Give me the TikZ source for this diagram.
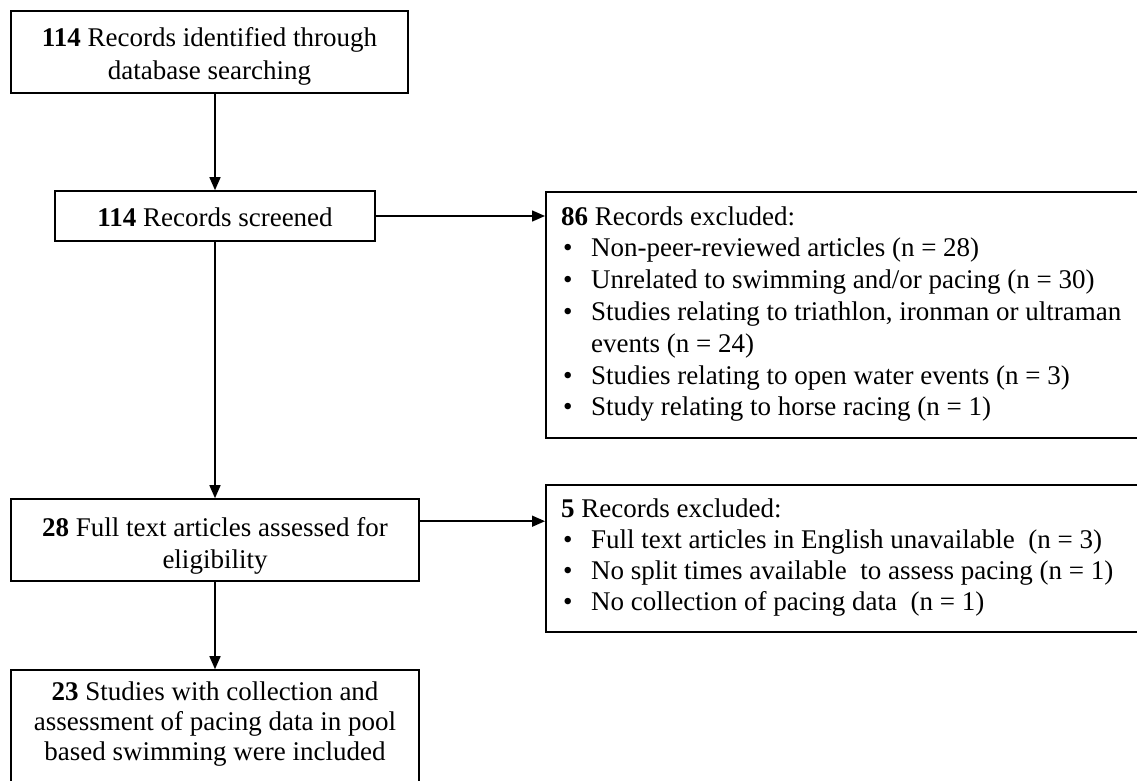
\documentclass[tikz,border=0pt]{standalone}
\usepackage{fontspec}
\setmainfont{Liberation Serif}
\usetikzlibrary{arrows.meta,calc}
\newcommand{\bul}{\makebox[30pt][l]{\hspace{2pt}\textbullet}}
\newcommand{\fs}[1]{\fontsize{27pt}{#1}\selectfont}
\begin{document}
\begin{tikzpicture}[x=1pt,y=-1pt,
  box/.style={draw,line width=1.6pt,inner sep=0pt},
  ctext/.style={anchor=base,inner sep=0pt},
  extext/.style={anchor=base west,inner sep=0pt},
  arr/.style={line width=1.5pt,-{Triangle[length=13pt,width=11pt]}}]
\useasboundingbox (0,0) rectangle (1137,781);
\clip (0,0) rectangle (1137,781);
\fill[white] (0,0) rectangle (1137,781);
% left column boxes
\node[box,minimum width=397pt,minimum height=82pt] (b1) at (209.5,52) {};
\node[ctext] (b1t) at (b1 |- 0,46.5) {\fs{33.5pt}\parbox[t]{397pt}{\centering
  \textbf{114} Records identified through\\database searching}};
\node[box,minimum width=320pt,minimum height=50pt] (b2) at (215,216) {};
\node[ctext] (b2t) at (b2 |- 0,226) {\fs{31pt}\textbf{114} Records screened};
\node[box,minimum width=408pt,minimum height=82pt] (b3) at (215,540) {};
\node[ctext] (b3t) at (b3 |- 0,536.5) {\fs{32pt}\parbox[t]{408pt}{\centering
  \textbf{28} Full text articles assessed for\\eligibility}};
\node[box,minimum width=408pt,minimum height=120pt] (b4) at (215,730) {};
\node[ctext] (b4t) at (b4 |- 0,700.5) {\fs{30pt}\parbox[t]{408pt}{\centering
  \textbf{23} Studies with collection and\\assessment of pacing data in pool\\based swimming were included}};
% right column boxes
\node[box,minimum width=615pt,minimum height=246pt,anchor=north west] (e1) at (545,191) {};
\node[extext] (e1t) at (561,225) {\fs{31.8pt}\parbox[t]{600pt}{%
  \textbf{86} Records excluded:\\
  \bul Non-peer-reviewed articles (n = 28)\\
  \bul Unrelated to swimming and/or pacing (n = 30)\\
  \bul Studies relating to triathlon, ironman or ultraman\\
  \hspace*{30pt}events (n = 24)\\
  \bul Studies relating to open water events (n = 3)\\
  \bul Study relating to horse racing (n = 1)}};
\node[box,minimum width=615pt,minimum height=147pt,anchor=north west] (e2) at (545,484) {};
\node[extext] (e2t) at (561,517) {\fs{31pt}\parbox[t]{600pt}{%
  \textbf{5} Records excluded:\\
  \bul Full text articles in English unavailable\ \ (n = 3)\\
  \bul No split times available\ \ to assess pacing (n = 1)\\
  \bul No collection of pacing data\ \ (n = 1)}};
% connectors
\draw[arr] (b2.north |- b1.south) -- (b2.north);
\draw[arr] (b2.south) -- (b2.south |- b3.north);
\draw[arr] (b3.south) -- (b4.north);
\draw[arr] (b2.east) -- (b2.east -| e1.west);
\coordinate (a3) at ($(b3.north east)+(0,23)$);
\draw[arr] (a3) -- (a3 -| e2.west);
\end{tikzpicture}
\end{document}
